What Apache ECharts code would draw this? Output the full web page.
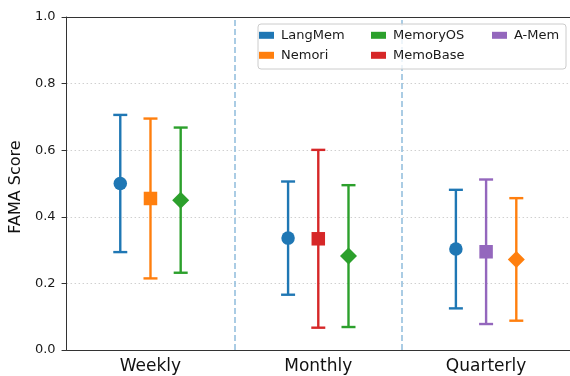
<!DOCTYPE html>
<html>
<head>
<meta charset="utf-8">
<script src="https://cdn.jsdelivr.net/npm/echarts@6/dist/echarts.min.js"></script>
<style>
  html, body { margin: 0; padding: 0; background: #fff; }
  #chart { width: 570px; height: 376px; }
</style>
</head>
<body>
<div id="chart"></div>
<script>
// Time horizons on the x axis
const horizons = ['Weekly', 'Monthly', 'Quarterly'];

// Methods shown in each horizon group, left to right
const weeklyMembers = ['LangMem', 'Nemori', 'MemoryOS'];
const monthlyMembers = ['LangMem', 'MemoBase', 'MemoryOS'];
const quarterlyMembers = ['LangMem', 'A-Mem', 'Nemori'];

// Mean FAMA score per horizon (null = not evaluated)
const langMemMean  = [0.500, 0.336, 0.303];
const nemoriMean   = [0.455, null,  0.272];
const memoryOSMean = [0.450, 0.282, null];
const memoBaseMean = [null,  0.334, null];
const aMemMean     = [null,  null,  0.295];

// Standard deviation per horizon
const langMemStd  = [0.206, 0.170, 0.178];
const nemoriStd   = [0.240, null,  0.184];
const memoryOSStd = [0.218, 0.213, null];
const memoBaseStd = [null,  0.267, null];
const aMemStd     = [null,  null,  0.217];

// Group separators and y ticks
const separators = [0.5, 1.5];
const yTicks = [0, 0.2, 0.4, 0.6, 0.8, 1.0];

const methodNames = ['LangMem', 'Nemori', 'MemoryOS', 'MemoBase', 'A-Mem'];
const methodColors = {
  'LangMem': '#1f77b4', 'Nemori': '#ff7f0e', 'MemoryOS': '#2ca02c',
  'MemoBase': '#d62728', 'A-Mem': '#9467bd'
};
const means = {
  'LangMem': langMemMean, 'Nemori': nemoriMean, 'MemoryOS': memoryOSMean,
  'MemoBase': memoBaseMean, 'A-Mem': aMemMean
};
const stds = {
  'LangMem': langMemStd, 'Nemori': nemoriStd, 'MemoryOS': memoryOSStd,
  'MemoBase': memoBaseStd, 'A-Mem': aMemStd
};
const groupMembers = [weeklyMembers, monthlyMembers, quarterlyMembers];
const slotSymbols = ['circle', 'rect', 'diamond'];
const slotSizes = [13.5, 13.5, 17];
const slotOffset = 0.18;

// Collect points and error ranges for each method
const points = {}, ranges = {};
methodNames.forEach(m => { points[m] = []; ranges[m] = []; });
groupMembers.forEach((members, g) => {
  members.forEach((m, j) => {
    const x = g + (j - 1) * slotOffset;
    const mu = means[m][g], sd = stds[m][g];
    points[m].push({ value: [x, mu], symbol: slotSymbols[j], symbolSize: slotSizes[j] });
    ranges[m].push([x, mu - sd, mu + sd]);
  });
});

function errorBar(color) {
  return function (params, api) {
    const x = api.value(0);
    const top = api.coord([x, api.value(2)]);
    const bot = api.coord([x, api.value(1)]);
    const cap = 7;
    const style = { stroke: color, lineWidth: 2.4 };
    return {
      type: 'group',
      children: [
        { type: 'line', shape: { x1: top[0], y1: top[1], x2: bot[0], y2: bot[1] }, style },
        { type: 'line', shape: { x1: top[0] - cap, y1: top[1], x2: top[0] + cap, y2: top[1] }, style },
        { type: 'line', shape: { x1: bot[0] - cap, y1: bot[1], x2: bot[0] + cap, y2: bot[1] }, style }
      ]
    };
  };
}

const series = [];
methodNames.forEach(m => {
  series.push({
    type: 'custom',
    name: m + ' range',
    xAxisIndex: 1,
    yAxisIndex: 0,
    z: 2,
    renderItem: errorBar(methodColors[m]),
    encode: { x: 0, y: [1, 2] },
    data: ranges[m]
  });
  series.push({
    type: 'scatter',
    name: m,
    xAxisIndex: 1,
    yAxisIndex: 0,
    z: 3,
    itemStyle: { color: methodColors[m], opacity: 1 },
    data: points[m]
  });
});
// Dashed separators between horizon groups
series.push({
  type: 'scatter',
  name: 'separators',
  xAxisIndex: 1,
  yAxisIndex: 0,
  data: [],
  z: 1,
  markLine: {
    silent: true,
    symbol: 'none',
    label: { show: false },
    lineStyle: { color: '#8fbcdb', type: [6, 3], width: 1.5 },
    data: separators.map(v => ({ xAxis: v }))
  }
});

function legendColumn(names, left) {
  return {
    orient: 'vertical',
    left: left,
    top: 28.8,
    padding: 0,
    itemGap: 7,
    itemWidth: 15,
    itemHeight: 7,
    icon: 'rect',
    z: 10,
    selectedMode: false,
    textStyle: { fontFamily: 'DejaVu Sans', fontSize: 13, color: '#1a1a1a', lineHeight: 13, padding: [0, 0, 0, 2] },
    data: names.map(n => ({ name: n, itemStyle: { color: methodColors[n] } }))
  };
}

const option = {
  animation: false,
  backgroundColor: '#fff',
  grid: { left: 65, right: -3, top: 17, bottom: 26, containLabel: false },
  xAxis: [
    {
      type: 'category',
      data: horizons,
      position: 'bottom',
      boundaryGap: true,
      axisLine: { onZero: false, lineStyle: { color: '#333', width: 1 } },
      axisTick: { alignWithLabel: true, length: 5, inside: false, lineStyle: { color: '#333' } },
      axisLabel: { fontFamily: 'DejaVu Sans', fontSize: 17, color: '#111', margin: 8 },
      splitLine: { show: false }
    },
    {
      type: 'value',
      min: -0.5,
      max: 2.5,
      position: 'top',
      axisLine: { show: true, onZero: false, lineStyle: { color: '#333', width: 1 } },
      axisTick: { show: false },
      axisLabel: { show: false },
      splitLine: { show: false }
    }
  ],
  yAxis: {
    type: 'value',
    min: yTicks[0],
    max: yTicks[yTicks.length - 1],
    interval: 0.2,
    position: 'left',
    name: 'FAMA Score',
    nameLocation: 'middle',
    nameGap: 30,
    nameTextStyle: { fontFamily: 'DejaVu Sans', fontSize: 16, color: '#111', padding: [0, 7, 0, 0] },
    axisLine: { show: true, onZero: false, lineStyle: { color: '#333', width: 1 } },
    axisTick: { show: true, length: 5, lineStyle: { color: '#333' } },
    axisLabel: {
      fontFamily: 'DejaVu Sans', fontSize: 13, color: '#1a1a1a', margin: 11,
      formatter: v => v.toFixed(1)
    },
    splitLine: { show: true, lineStyle: { color: '#d0d0d0', type: [1.5, 2.5], width: 1 } }
  },
  legend: [
    legendColumn(['LangMem', 'Nemori'], 259),
    legendColumn(['MemoryOS', 'MemoBase'], 371),
    legendColumn(['A-Mem'], 492)
  ],
  graphic: [
    {
      type: 'rect',
      z: 8,
      shape: { x: 258, y: 24, width: 308, height: 45, r: 3 },
      style: { fill: 'rgba(255,255,255,0.8)', stroke: '#cccccc', lineWidth: 1 }
    }
  ],
  series: series
};

const chart = echarts.init(document.getElementById('chart'), null, { renderer: 'canvas' });
chart.setOption(option);
</script>
</body>
</html>
